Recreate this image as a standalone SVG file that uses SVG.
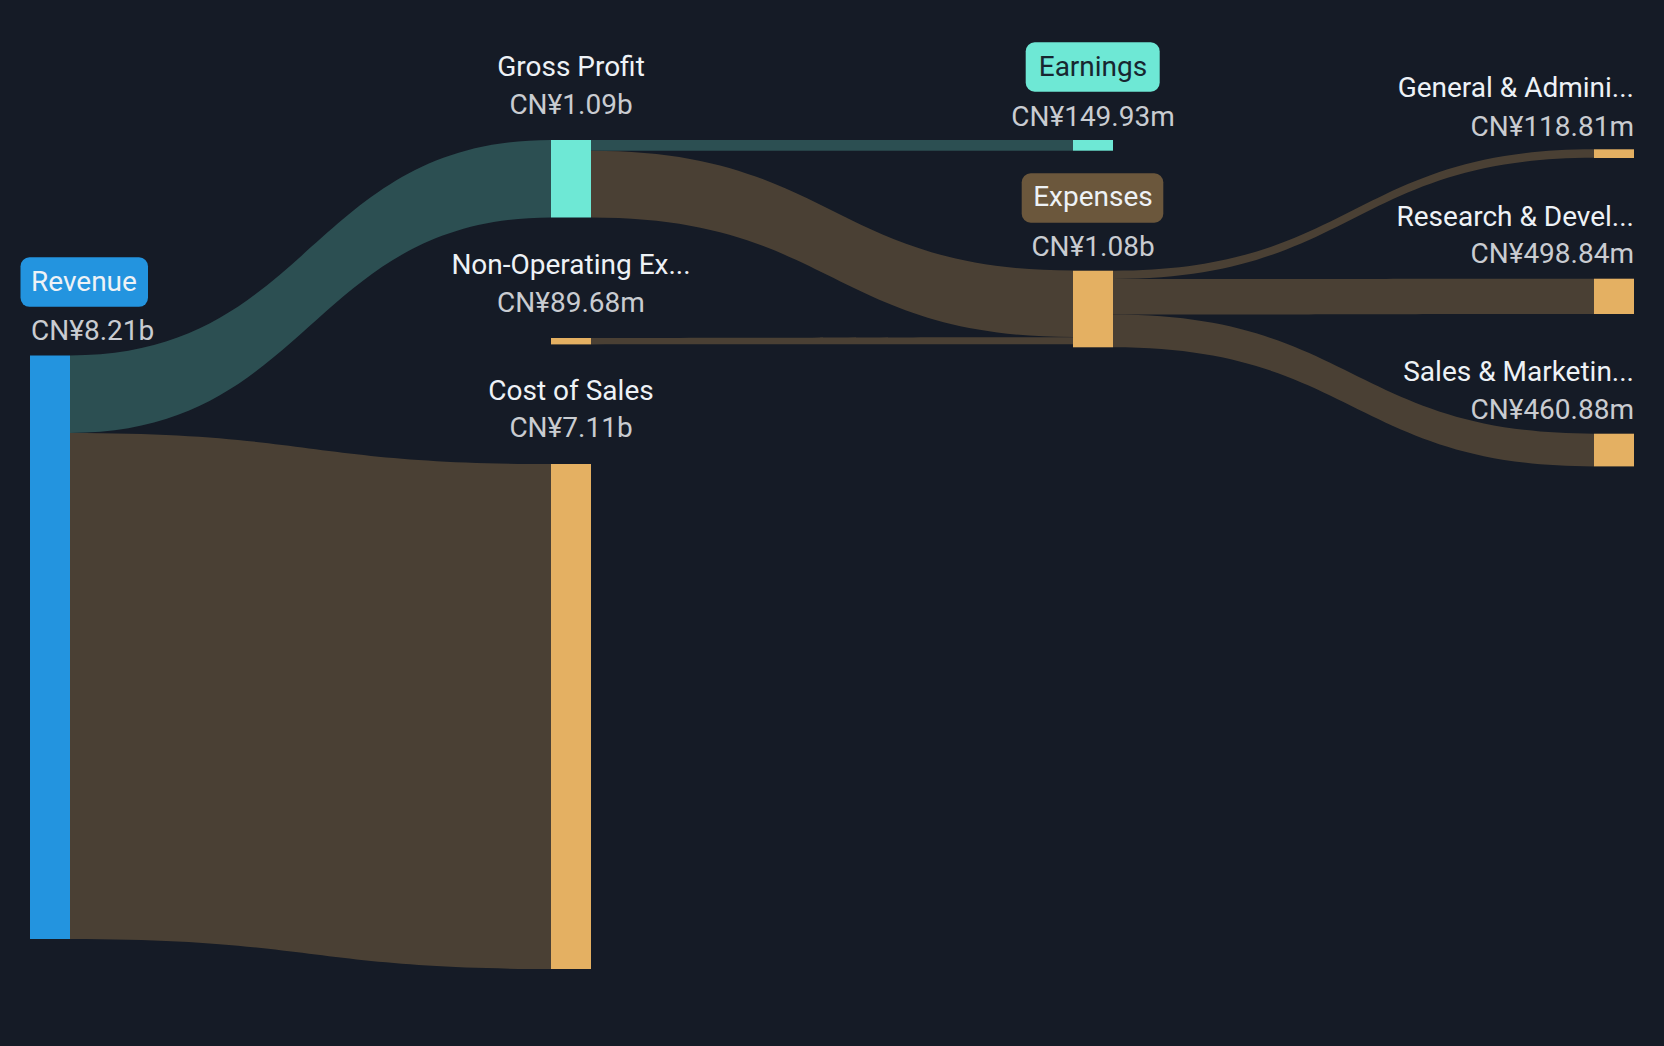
<svg xmlns="http://www.w3.org/2000/svg" width="1664" height="1046" viewBox="0 0 1664 1046">
<style>
.lbl{font-family:Roboto,"Liberation Sans",sans-serif;font-size:28px;fill:#eef2f6}
.val{font-family:Roboto,"Liberation Sans",sans-serif;font-size:28px;fill:#c9ccd1}
.mid{text-anchor:middle}
.end{text-anchor:end}
.lt{fill:#2c4f52}
.lb{fill:#4a4034}
.nb{fill:#2394df}
.nt{fill:#6ee8d5}
.no{fill:#e4b062}
</style>
<rect width="1664" height="1046" fill="#151b26"/>
<g id="links">
<path class="lt" d="M70,355.5 C310.5,355.5 310.5,140 551,140 L551,217.5 C310.5,217.5 310.5,433 70,433 Z"/>
<path class="lb" d="M70,433 C310.5,433 310.5,464 551,464 L551,969 C310.5,969 310.5,939 70,939 Z"/>
<path class="lt" d="M591,140 L1073,140 L1073,150.7 L591,150.7 Z"/>
<path class="lb" d="M591,150.7 C832,150.7 832,270.5 1073,270.5 L1073,337 C832,337 832,217.5 591,217.5 Z"/>
<path class="lb" d="M591,338 C832,338 832,337.3 1073,337.3 L1073,344.2 C832,344.2 832,344.4 591,344.4 Z"/>
<path class="lb" d="M1113,270.7 C1353.5,270.7 1353.5,149.3 1594,149.3 L1594,157.8 C1353.5,157.8 1353.5,279.1 1113,279.1 Z"/>
<path class="lb" d="M1113,279.1 C1353.5,279.1 1353.5,278.7 1594,278.7 L1594,314 C1353.5,314 1353.5,314.6 1113,314.6 Z"/>
<path class="lb" d="M1113,314.6 C1353.5,314.6 1353.5,433.7 1594,433.7 L1594,466.4 C1353.5,466.4 1353.5,347.3 1113,347.3 Z"/>
</g>
<g id="revenue">
<rect class="nb" x="30" y="355.5" width="40" height="583.5"/>
<rect x="20.5" y="257.3" width="127.5" height="49.5" rx="9" fill="#2394df"/>
<text class="lbl" x="31" y="290.7">Revenue</text>
<text class="val" x="31" y="340">CN¥8.21b</text>
</g>
<g id="gross-profit">
<rect class="nt" x="551" y="140" width="40" height="77.5"/>
<text class="lbl mid" x="571" y="76">Gross Profit</text>
<text class="val mid" x="571" y="114">CN¥1.09b</text>
</g>
<g id="non-operating">
<rect class="no" x="551" y="338" width="40" height="6.4"/>
<text class="lbl mid" x="571" y="274">Non-Operating Ex...</text>
<text class="val mid" x="571" y="311.7">CN¥89.68m</text>
</g>
<g id="cost-of-sales">
<rect class="no" x="551" y="464" width="40" height="505"/>
<text class="lbl mid" x="571" y="399.5">Cost of Sales</text>
<text class="val mid" x="571" y="437">CN¥7.11b</text>
</g>
<g id="earnings">
<rect class="nt" x="1073" y="140" width="40" height="10.7"/>
<rect x="1025.7" y="42.3" width="134" height="49.4" rx="9" fill="#6ee8d5"/>
<text class="lbl mid" x="1093" y="75.5" style="fill:#172630">Earnings</text>
<text class="val mid" x="1093" y="125.5">CN¥149.93m</text>
</g>
<g id="expenses">
<rect class="no" x="1073" y="270.7" width="40" height="76.6"/>
<rect x="1021.7" y="173.3" width="141.6" height="49.4" rx="9" fill="#6b573c"/>
<text class="lbl mid" x="1093" y="206">Expenses</text>
<text class="val mid" x="1093" y="256">CN¥1.08b</text>
</g>
<g id="general-admin">
<rect class="no" x="1594" y="149.3" width="40" height="8.7"/>
<text class="lbl end" x="1634" y="96.7">General &amp; Admini...</text>
<text class="val end" x="1634" y="136">CN¥118.81m</text>
</g>
<g id="research-dev">
<rect class="no" x="1594" y="278.7" width="40" height="35.3"/>
<text class="lbl end" x="1634" y="225.7">Research &amp; Devel...</text>
<text class="val end" x="1634" y="263">CN¥498.84m</text>
</g>
<g id="sales-marketing">
<rect class="no" x="1594" y="433.7" width="40" height="32.7"/>
<text class="lbl end" x="1634" y="381">Sales &amp; Marketin...</text>
<text class="val end" x="1634" y="419.3">CN¥460.88m</text>
</g>
</svg>
